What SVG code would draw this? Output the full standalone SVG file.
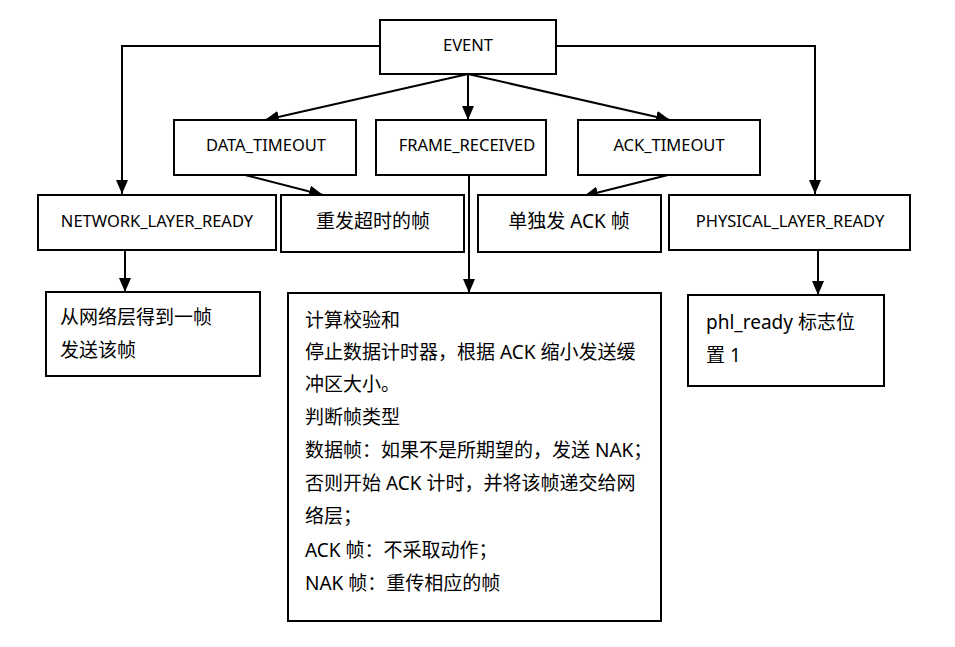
<svg xmlns="http://www.w3.org/2000/svg" width="955" height="647" viewBox="0 0 955 647">
<style>
.box{fill:#fff;stroke:#000;stroke-width:2}
.ln{fill:none;stroke:#000;stroke-width:2}
.lbl{font-family:"Noto Sans","Noto Sans CJK SC",sans-serif;font-size:16.5px;fill:#000}
.txt{font-family:"Noto Sans","Noto Sans CJK SC",sans-serif;font-size:19px;fill:#000}
</style>
<defs>
<marker id="arr" viewBox="0 0 14 12" refX="14" refY="6" markerWidth="14" markerHeight="12" markerUnits="userSpaceOnUse" orient="auto">
<path d="M0,0 L14,6 L0,12 Z" fill="#000"/>
</marker>
</defs>
<g id="connectors">
<path class="ln" d="M380,46 H122 V194" marker-end="url(#arr)"/>
<path class="ln" d="M556,46 H815 V194" marker-end="url(#arr)"/>
<path class="ln" d="M468,74 L265,120" marker-end="url(#arr)"/>
<path class="ln" d="M468,74 V120" marker-end="url(#arr)"/>
<path class="ln" d="M468,74 L670,120" marker-end="url(#arr)"/>
<path class="ln" d="M245,175 L323,195" marker-end="url(#arr)"/>
<path class="ln" d="M668,175 L584,196" marker-end="url(#arr)"/>
<path class="ln" d="M469,175 V293" marker-end="url(#arr)"/>
<path class="ln" d="M125,250 V292" marker-end="url(#arr)"/>
<path class="ln" d="M818,250 V295" marker-end="url(#arr)"/>
</g>
<g id="event"><rect class="box" x="380" y="20" width="176" height="54"/><text class="lbl" x="468" y="51" text-anchor="middle">EVENT</text></g>
<g id="data_timeout"><rect class="box" x="174" y="120" width="182" height="55"/><text class="lbl" x="266" y="151" text-anchor="middle">DATA_TIMEOUT</text></g>
<g id="frame_received"><rect class="box" x="376" y="120" width="170" height="55"/><text class="lbl" x="467" y="151" text-anchor="middle">FRAME_RECEIVED</text></g>
<g id="ack_timeout"><rect class="box" x="578" y="120" width="182" height="55"/><text class="lbl" x="669" y="151" text-anchor="middle">ACK_TIMEOUT</text></g>
<g id="network_layer_ready"><rect class="box" x="38" y="195" width="238" height="55"/><text class="lbl" x="157" y="227" text-anchor="middle">NETWORK_LAYER_READY</text></g>
<g id="resend"><rect class="box" x="281" y="195" width="183" height="57"/><text class="txt" x="373" y="228" text-anchor="middle">重发超时的帧</text></g>
<g id="send_ack"><rect class="box" x="478" y="195" width="183" height="57"/><text class="txt" x="569" y="228" text-anchor="middle">单独发 ACK 帧</text></g>
<g id="physical_layer_ready"><rect class="box" x="669" y="195" width="241" height="55"/><text class="lbl" x="790" y="227" text-anchor="middle">PHYSICAL_LAYER_READY</text></g>
<g id="get_frame"><rect class="box" x="46" y="292" width="214" height="84"/><text class="txt" x="60" y="324">从网络层得到一帧</text><text class="txt" x="60" y="357">发送该帧</text></g>
<g id="frame_process"><rect class="box" x="288" y="293" width="373" height="328"/>
<text class="txt" x="305" y="327">计算校验和</text>
<text class="txt" x="305" y="359">停止数据计时器，根据 ACK 缩小发送缓</text>
<text class="txt" x="305" y="391">冲区大小。</text>
<text class="txt" x="305" y="424">判断帧类型</text>
<text class="txt" x="305" y="457">数据帧：如果不是所期望的，发送 NAK；</text>
<text class="txt" x="305" y="490">否则开始 ACK 计时，并将该帧递交给网</text>
<text class="txt" x="305" y="523">络层；</text>
<text class="txt" x="305" y="557">ACK 帧：不采取动作；</text>
<text class="txt" x="305" y="590">NAK 帧：重传相应的帧</text>
</g>
<g id="phl_ready"><rect class="box" x="688" y="295" width="196" height="91"/><text class="txt" x="706" y="329">phl_ready 标志位</text><text class="txt" x="706" y="362">置 1</text></g>
</svg>
